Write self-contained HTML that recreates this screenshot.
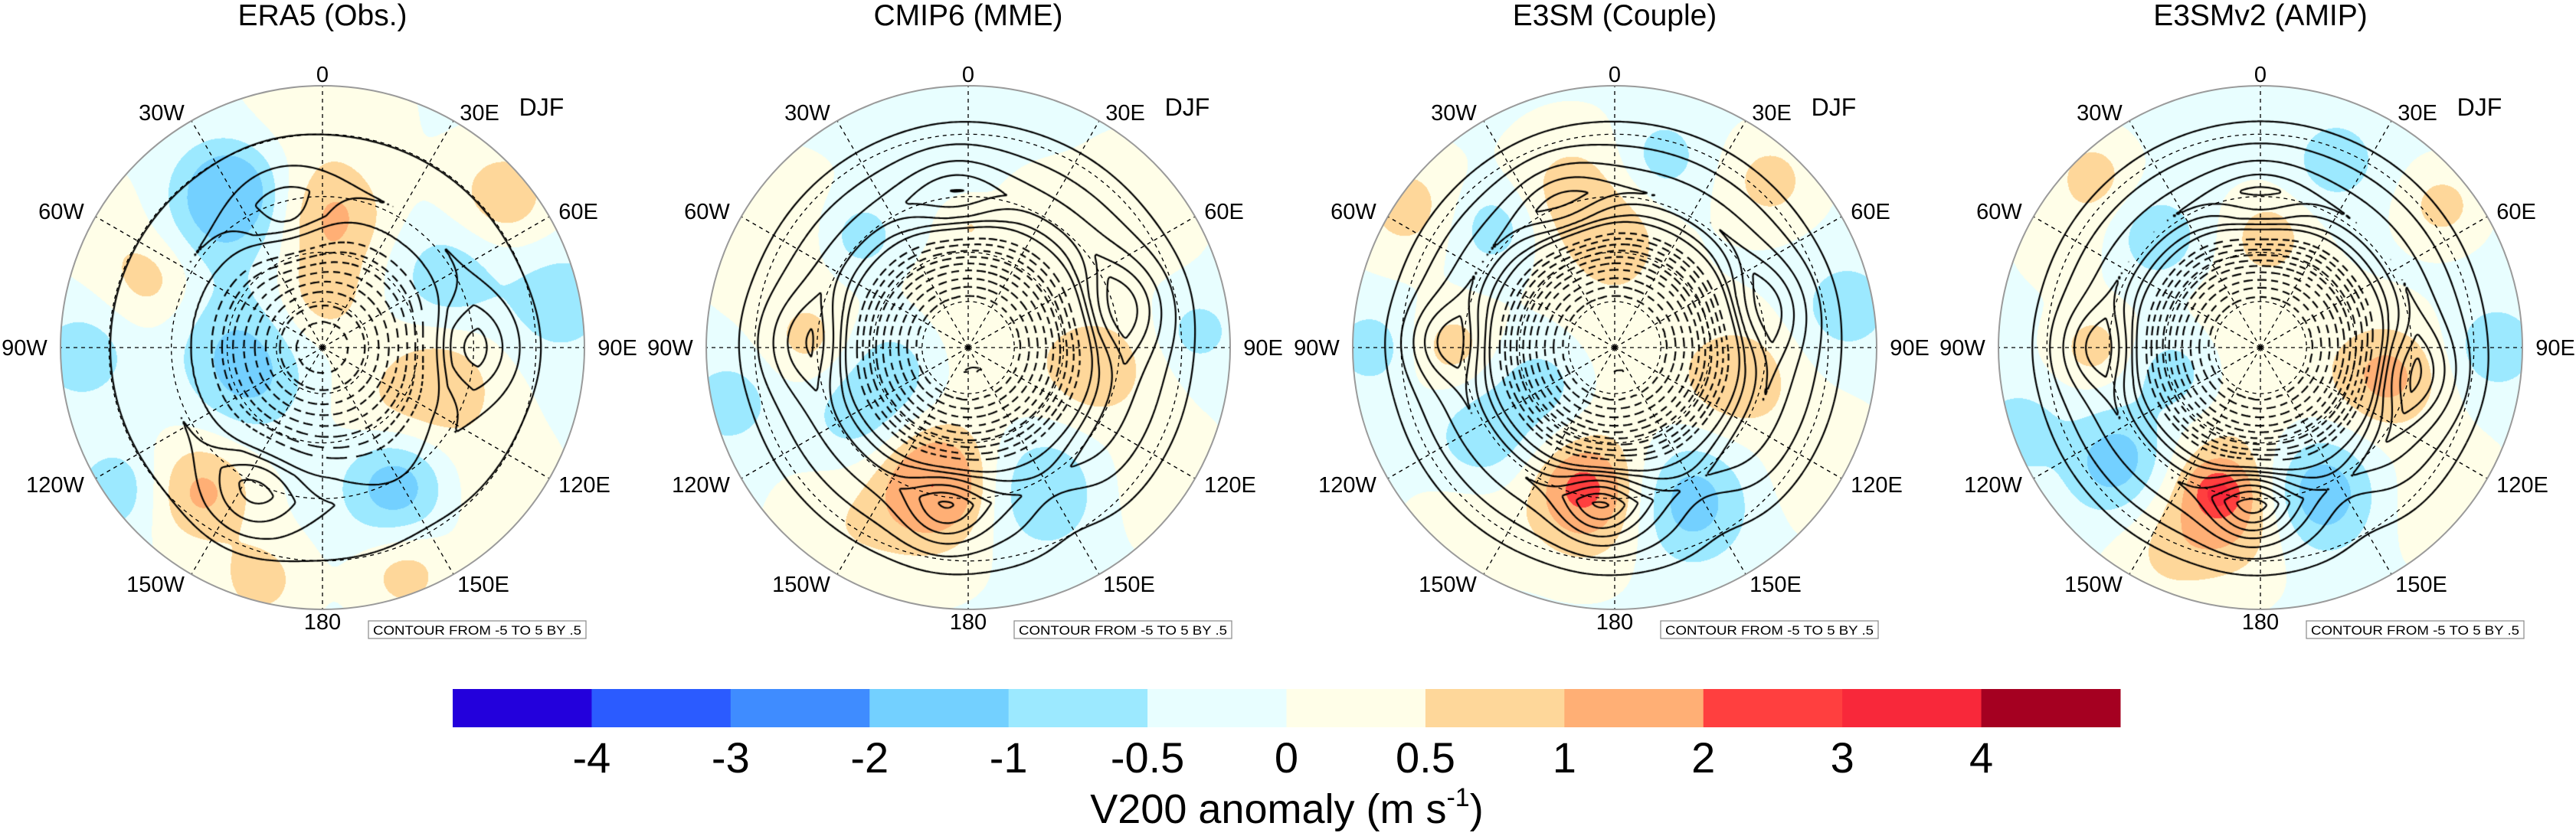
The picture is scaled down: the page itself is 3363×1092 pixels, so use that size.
<!DOCTYPE html>
<html><head><meta charset="utf-8"><style>
html,body{margin:0;padding:0;background:#fff;}
#wrap{position:relative;width:3363px;height:1092px;overflow:hidden;font-family:"Liberation Sans",sans-serif;}
canvas{position:absolute;}
svg{position:absolute;left:0;top:0;}
</style></head><body>
<div id="wrap">
<canvas id="c0" width="686" height="686" style="left:78px;top:111px"></canvas>
<canvas id="c1" width="686" height="686" style="left:921px;top:111px"></canvas>
<canvas id="c2" width="686" height="686" style="left:1765px;top:111px"></canvas>
<canvas id="c3" width="686" height="686" style="left:2608px;top:111px"></canvas>
<svg id="ov" width="3363" height="1092"></svg>
</div>
<script>
// ---- data ----
const titles = ["ERA5 (Obs.)","CMIP6 (MME)","E3SM (Couple)","E3SMv2 (AMIP)"];
const shadeLevels = [-4,-3,-2,-1,-0.5,0,0.5,1,2,3,4];
const shadeColors = ["#2300dc","#2b5bff","#3f8cff","#73d0ff","#9ce9ff","#e8feff","#fffee8","#fed79a","#ffaf75","#ff3f3f","#f8283a","#a50021"];
const colorbarLabels = ["-4","-3","-2","-1","-0.5","0","0.5","1","2","3","4"];
const shadeBase = [-0.08,-0.08,-0.08,-0.08];
// shading anomaly blobs per panel: longitude (deg E), normalized radius, amplitude (m/s), width
const p1Lon = [330,320,5,0,270,240,108,61,79,50,292,268,220,152,195,160,235,0,130,300,140];
const p1Rho = [0.70,0.62,0.50,0.20,0.33,0.30,0.47,0.55,0.92,0.90,0.70,0.92,0.72,0.60,0.92,0.92,0.95,0.90,0.85,0.95,0.30];
const p1Amp = [-1.3,-0.7,1.1,0.8,-0.8,-0.6,1.0,-0.8,-0.8,0.9,0.8,-0.8,1.2,-1.3,0.8,0.8,-0.8,0.4,0.4,0.4,0.3];
const p1Wid = [0.12,0.18,0.14,0.13,0.16,0.14,0.16,0.14,0.14,0.14,0.12,0.12,0.14,0.14,0.12,0.12,0.12,0.2,0.17,0.14,0.14];
const p2Lon = [194,194,153,253,237,99,273,316,257,86,1,300,50,215,0,125,30];
const p2Rho = [0.53,0.60,0.61,0.28,0.50,0.50,0.61,0.59,0.94,0.88,0.46,0.85,0.85,0.85,0.0,0.90,0.60];
const p2Amp = [1.4,0.7,-1.0,-0.8,-0.7,0.9,0.7,-0.8,-0.8,-0.7,0.5,0.4,0.4,0.4,0.4,0.4,0.3];
const p2Wid = [0.13,0.2,0.16,0.14,0.14,0.15,0.11,0.10,0.11,0.09,0.06,0.2,0.17,0.17,0.26,0.17,0.11];
const p3Lon = [190,193,155,345,1,14,43,104,80,270,304,315,242,235,270,0,120,220];
const p3Rho = [0.58,0.55,0.65,0.62,0.40,0.75,0.87,0.49,0.90,0.62,0.96,0.65,0.30,0.60,0.93,0.0,0.90,0.90];
const p3Amp = [1.5,1.2,-1.3,0.8,0.7,-0.7,0.8,1.0,-0.8,0.8,0.8,-0.8,-0.8,-0.8,-0.7,0.4,0.4,0.4];
const p3Wid = [0.17,0.07,0.16,0.16,0.12,0.11,0.12,0.14,0.12,0.11,0.14,0.11,0.14,0.14,0.11,0.26,0.17,0.14];
const p4Lon = [196,193,159,231,253,103,4,317,22,316,52,270,90,251,0,130,300,205];
const p4Rho = [0.58,0.62,0.60,0.70,0.34,0.50,0.43,0.57,0.77,0.92,0.88,0.64,0.90,0.98,0.0,0.90,0.85,0.90];
const p4Amp = [2.2,1.5,-1.5,-1.3,-0.8,1.2,0.8,-0.9,-0.8,0.8,0.8,0.8,-0.9,-0.8,0.4,0.4,0.3,0.4];
const p4Wid = [0.06,0.18,0.15,0.14,0.12,0.14,0.10,0.11,0.11,0.10,0.10,0.10,0.11,0.11,0.26,0.17,0.14,0.14];
// contour field: zonal profile + wave blobs
const profRho = [0,0.1,0.2,0.3,0.4,0.5,0.6,0.75,0.9,1.0];
const p1Prof = [-4.2,-4,-3.2,-2,-0.8,0.5,1.0,0.7,0.2,0];
const p2Prof = [-5,-5,-4.5,-3,-1.2,0.8,1.8,1.0,0.3,0];
const p3Prof = [-5.5,-5.5,-5,-3.5,-1.5,0.8,2.0,1.1,0.3,0];
const p4Prof = [-5.5,-5.5,-5,-3.5,-1.5,0.8,2.0,1.1,0.3,0];
const c1Lon = [90,345,205,150], c1Rho = [0.55,0.50,0.60,0.55], c1Amp = [1.3,1.0,1.2,-0.4], c1Wid = [0.12,0.12,0.12,0.12];
const c2Lon = [75,355,272,188,150], c2Rho = [0.60,0.55,0.62,0.62,0.65], c2Amp = [1.2,0.8,0.8,1.3,-0.5], c2Wid = [0.12,0.12,0.12,0.10,0.12];
const c3Lon = [75,340,272,185,150], c3Rho = [0.58,0.55,0.65,0.60,0.65], c3Amp = [1.0,0.8,1.0,1.6,-0.6], c3Wid = [0.12,0.12,0.10,0.10,0.12];
const c4Lon = [100,0,270,183,150], c4Rho = [0.58,0.50,0.62,0.60,0.65], c4Amp = [1.2,0.9,1.0,1.8,-0.6], c4Wid = [0.12,0.12,0.10,0.10,0.12];

const shadeSets = [[p1Lon,p1Rho,p1Amp,p1Wid],[p2Lon,p2Rho,p2Amp,p2Wid],[p3Lon,p3Rho,p3Amp,p3Wid],[p4Lon,p4Rho,p4Amp,p4Wid]];
const profSets = [p1Prof,p2Prof,p3Prof,p4Prof];
const contSets = [[c1Lon,c1Rho,c1Amp,c1Wid],[c2Lon,c2Rho,c2Amp,c2Wid],[c3Lon,c3Rho,c3Amp,c3Wid],[c4Lon,c4Rho,c4Amp,c4Wid]];

// ---- geometry ----
const centers = [421,1264,2108,2951], CY = 454, R = 342, HALF = 343;
function polarXY(lon, rho){ const a = lon*Math.PI/180; return [rho*Math.sin(a), -rho*Math.cos(a)]; }
function blobField(set, x, y){
  let v = 0; const [L,Rh,A,W] = set;
  for(let i=0;i<L.length;i++){ const p = polarXY(L[i],Rh[i]); const dx=x-p[0], dy=y-p[1];
    v += A[i]*Math.exp(-(dx*dx+dy*dy)/(2*W[i]*W[i])); }
  return v;
}
function profile(prof, r){
  if(r>=1) return prof[prof.length-1];
  for(let i=0;i<profRho.length-1;i++){ if(r<=profRho[i+1]){ const t=(r-profRho[i])/(profRho[i+1]-profRho[i]); return prof[i]+t*(prof[i+1]-prof[i]); } }
  return 0;
}
function hex(c){ return [parseInt(c.substr(1,2),16),parseInt(c.substr(3,2),16),parseInt(c.substr(5,2),16)]; }
const rgb = shadeColors.map(hex);

for(let p=0;p<4;p++){
  const cv = document.getElementById('c'+p), ctx = cv.getContext('2d');
  const img = ctx.createImageData(686,686), d = img.data;
  for(let j=0;j<686;j++) for(let i=0;i<686;i++){
    const x=(i+0.5-HALF)/R, y=(j+0.5-HALF)/R, r2=x*x+y*y; const o=(j*686+i)*4;
    if(r2>1){ d[o+3]=0; continue; }
    const v = shadeBase[p]+blobField(shadeSets[p],x,y);
    let k=0; while(k<shadeLevels.length && v>=shadeLevels[k]) k++;
    const c=rgb[k]; d[o]=c[0]; d[o+1]=c[1]; d[o+2]=c[2]; d[o+3]=255;
  }
  ctx.putImageData(img,0,0);
  const step=3, n=Math.floor(686/step)+1, F=new Float32Array(n*n);
  for(let j=0;j<n;j++) for(let i=0;i<n;i++){
    const x=(i*step-HALF)/R, y=(j*step-HALF)/R, r=Math.sqrt(x*x+y*y);
    F[j*n+i] = profile(profSets[p], r) + blobField(contSets[p], x, y);
  }
  ctx.save(); ctx.beginPath(); ctx.arc(HALF,HALF,R-1,0,2*Math.PI); ctx.clip();
  ctx.strokeStyle='#000'; ctx.lineWidth=2.2; ctx.lineCap='butt';
  for(let lev=-5.5; lev<=5.01; lev+=0.5){
    if(Math.abs(lev)<0.01) continue;
    ctx.beginPath();
    for(let j=0;j<n-1;j++) for(let i=0;i<n-1;i++){
      const a=F[j*n+i]-lev, b=F[j*n+i+1]-lev, c=F[(j+1)*n+i+1]-lev, e=F[(j+1)*n+i]-lev;
      const pts=[];
      const x0=i*step, y0=j*step;
      if((a>0)!=(b>0)) pts.push([x0+step*a/(a-b), y0]);
      if((b>0)!=(c>0)) pts.push([x0+step, y0+step*b/(b-c)]);
      if((c>0)!=(e>0)) pts.push([x0+step*(1-c/(c-e)), y0+step]);
      if((e>0)!=(a>0)) pts.push([x0, y0+step*(1-e/(e-a))]);
      for(let q=0;q+1<pts.length;q+=2){
        if(lev<0){
          const mx=(pts[q][0]+pts[q+1][0])/2-HALF, my=(pts[q][1]+pts[q+1][1])/2-HALF;
          const s=(Math.atan2(my,mx)+Math.PI)*Math.sqrt(mx*mx+my*my);
          if((s%17)>11) continue;
        }
        ctx.moveTo(pts[q][0],pts[q][1]); ctx.lineTo(pts[q+1][0],pts[q+1][1]);
      }
    }
    ctx.stroke();
  }
  ctx.restore();
}

// ---- SVG overlay ----
const NS='http://www.w3.org/2000/svg', ov=document.getElementById('ov');
function mk(tag, attrs, parent){ const e=document.createElementNS(NS,tag); for(const k in attrs) e.setAttribute(k,attrs[k]); (parent||ov).appendChild(e); return e; }
const lonLabels = ["0","30E","60E","90E","120E","150E","180","150W","120W","90W","60W","30W"];
const lonOffsets = [[0,-347],[205,-297],[334,-168],[385,10],[342,189],[210,319],[0,368],[-218,319],[-349,189],[-389,10],[-341,-168],[-210,-297]];
const latRhos = [0.176,0.364,0.577,0.815];
for(let p=0;p<4;p++){
  const cx=centers[p];
  const g=mk('g',{});
   
  for(let k=0;k<latRhos.length;k++){
    const c=mk('circle',{cx:cx,cy:CY,r:latRhos[k]*R,fill:'none',stroke:'#000','stroke-width':1.3,'stroke-dasharray':'5,5'},g);
     
  }
  for(let k=0;k<12;k++){
    const a=k*30*Math.PI/180;
    const l=mk('line',{x1:cx,y1:CY,x2:cx+R*Math.sin(a),y2:CY-R*Math.cos(a),stroke:'#000','stroke-width':1.3,'stroke-dasharray':'5,5'},g);
     
  }
  const fr=mk('circle',{cx:cx,cy:CY,r:R,fill:'none',stroke:'#9a9a9a','stroke-width':2},g);
   
  const t=mk('text',{x:cx,y:33,'font-size':39,'text-anchor':'middle'},g); t.textContent=titles[p];
   
  for(let k=0;k<12;k++){
    const lt=mk('text',{x:cx+lonOffsets[k][0],y:CY+lonOffsets[k][1],'font-size':29,'text-anchor':'middle'},g);
    lt.textContent=lonLabels[k];
     
  }
  const dj=mk('text',{x:cx+286,y:CY-303,'font-size':32,'text-anchor':'middle'},g); dj.textContent='DJF';
   
  const bx=mk('rect',{x:cx+60,y:811,width:284,height:23,fill:'#fff',stroke:'#888','stroke-width':1.2},g);
   
  const bt=mk('text',{x:cx+202,y:829,'font-size':17,'text-anchor':'middle',textLength:272,lengthAdjust:'spacingAndGlyphs'},g);
  bt.textContent='CONTOUR FROM -5 TO 5 BY .5';
   
}
// colorbar
const cbX=591, cbW=2177, cbY=900, cbH=50, bw=cbW/shadeColors.length;
const cb=mk('g',{});
 
for(let k=0;k<shadeColors.length;k++){
  const r=mk('rect',{x:cbX+k*bw,y:cbY,width:bw+0.5,height:cbH,fill:shadeColors[k]},cb);
   
}
for(let k=0;k<colorbarLabels.length;k++){
  const t=mk('text',{x:cbX+(k+1)*bw,y:1009,'font-size':56,'text-anchor':'middle'},cb);
  t.textContent=colorbarLabels[k];
   
}
const ct=mk('text',{x:1680,y:1075,'font-size':54,'text-anchor':'middle'},cb);
 
ct.appendChild(document.createTextNode('V200 anomaly (m s'));
const sp=mk('tspan',{'font-size':34,dy:-22},ct); sp.textContent='-1';
const sp2=mk('tspan',{dy:22},ct); sp2.textContent=')';
</script>
</body></html>
